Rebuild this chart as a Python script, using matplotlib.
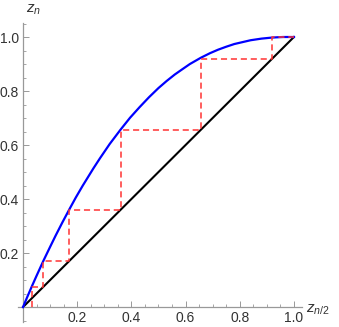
import numpy as np
import matplotlib.pyplot as plt
from matplotlib.ticker import MultipleLocator

plt.rcParams["font.family"] = ["Liberation Sans", "DejaVu Sans"]
plt.rcParams["mathtext.fontset"] = "custom"
plt.rcParams["mathtext.it"] = "Liberation Sans:italic"
plt.rcParams["mathtext.rm"] = "Liberation Sans"

# curve z_n(z_{n/2})
curve_x = [0, 0.015, 0.034, 0.05, 0.075, 0.1, 0.12, 0.145, 0.171, 0.195, 0.22, 0.26,
           0.284, 0.32, 0.36, 0.395, 0.43, 0.465, 0.5, 0.53, 0.56, 0.59, 0.616, 0.656,
           0.69, 0.72, 0.75, 0.78, 0.81, 0.84, 0.88, 0.92, 0.96, 1.0]
curve_y = [0, 0.036, 0.080, 0.116, 0.171, 0.223, 0.264, 0.313, 0.362, 0.406, 0.449, 0.514,
           0.551, 0.604, 0.657, 0.701, 0.740, 0.777, 0.811, 0.837, 0.861, 0.882, 0.900, 0.923,
           0.940, 0.953, 0.964, 0.974, 0.981, 0.988, 0.994, 0.998, 1.0, 1.0]

# cobweb iterates
z = [0.034, 0.075, 0.171, 0.36, 0.656, 0.92, 1.0]

web_x = [z[0]]
web_y = [0]
for a, b in zip(z[:-1], z[1:]):
    web_x += [a, b]
    web_y += [b, b]

fig = plt.figure(figsize=(3.39, 3.27), dpi=100)
ax = fig.add_axes([0.052, 0.0156, 0.839, 0.915])

ax.plot([0, 1], [0, 1], color="black", lw=1.5, zorder=2)
ax.plot(curve_x, curve_y, color="#0000ff", lw=1.6, zorder=3)
ax.plot(web_x, web_y, color="#ff3333", lw=1.1, ls=(0, (4, 2.5)), zorder=4)

ax.set_xlim(-0.02, 1.03)
ax.set_ylim(-0.055, 1.053)

for s in ["top", "right"]:
    ax.spines[s].set_visible(False)
for s in ["left", "bottom"]:
    ax.spines[s].set_position(("data", 0))
    ax.spines[s].set_color("#999999")
    ax.spines[s].set_linewidth(0.9)

ax.xaxis.set_major_locator(MultipleLocator(0.2))
ax.xaxis.set_minor_locator(MultipleLocator(0.05))
ax.yaxis.set_major_locator(MultipleLocator(0.2))
ax.yaxis.set_minor_locator(MultipleLocator(0.05))
ax.tick_params(which="major", direction="in", length=4, width=0.7, color="#999999",
               labelsize=10, labelcolor="#333333", pad=3)
ax.tick_params(which="minor", direction="in", length=2.2, width=0.6, color="#999999")

ticks = [0.2, 0.4, 0.6, 0.8, 1.0]
ax.set_xticks(ticks)
ax.set_yticks(ticks)
ax.set_xticklabels([f"{t:.1f}" for t in ticks])
ax.set_yticklabels([f"{t:.1f}" for t in ticks])

ax.text(1.045, -0.01, r"$z_{n/2}$", fontsize=11, color="#333333", ha="left", va="center",
        transform=ax.transData, clip_on=False)
ax.text(0.01, 1.075, r"$z_n$", fontsize=11, color="#333333", ha="left", va="bottom",
        transform=ax.transData, clip_on=False)

fig.savefig("out.png", dpi=100)
